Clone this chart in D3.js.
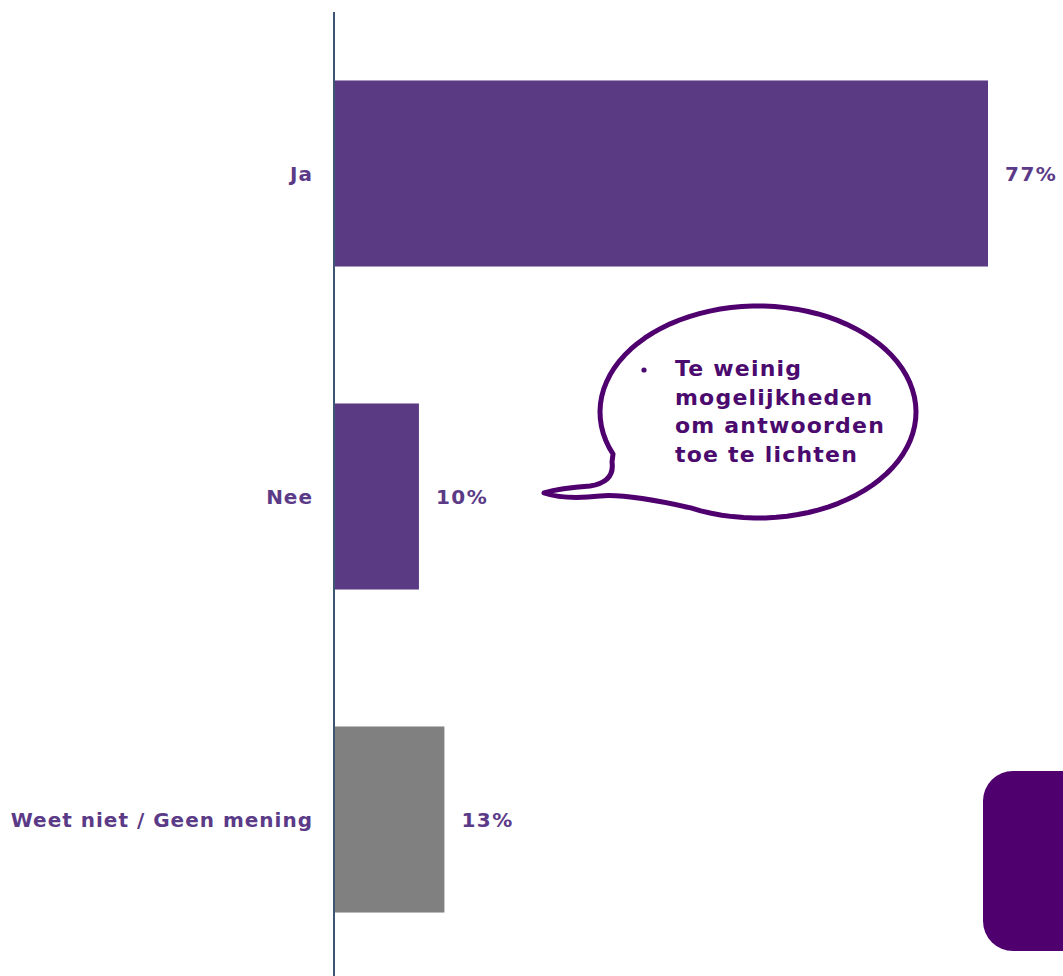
<!DOCTYPE html>
<html>
<head>
<meta charset="utf-8">
<script src="https://cdn.jsdelivr.net/npm/d3@7"></script>
<style>
  body { margin: 0; background: #fff; }
  svg { display: block; }
</style>
</head>
<body>
<div id="chart"></div>
<script>
// answers and shares (%)
const categories = ['Ja', 'Nee', 'Weet niet / Geen mening'];
const values = [77, 10, 13];
const barColors = ['#5b3a84', '#5b3a84', '#808080'];
const valueLabels = ['77%', '10%', '13%'];
const bubbleLines = ['Te weinig', 'mogelijkheden', 'om antwoorden', 'toe te lichten'];

const width = 1063, height = 976;
const font = "'DejaVu Sans', Verdana, sans-serif";

const svg = d3.select('#chart').append('svg')
  .attr('width', width)
  .attr('height', height);

const x = d3.scaleLinear()
  .domain([0, 77])
  .range([334, 988]);

const y = d3.scaleBand()
  .domain(categories)
  .range([12, 981])
  .paddingInner(0.424)
  .paddingOuter(0.212);

// bars
svg.selectAll('rect.bar')
  .data(values)
  .join('rect')
  .attr('class', 'bar')
  .attr('x', x(0))
  .attr('y', (d, i) => y(categories[i]))
  .attr('width', d => x(d) - x(0))
  .attr('height', y.bandwidth())
  .attr('fill', (d, i) => barColors[i]);

// axis line on the left
svg.append('line')
  .attr('x1', x(0)).attr('x2', x(0))
  .attr('y1', 12).attr('y2', height)
  .attr('stroke', '#3d5473')
  .attr('stroke-width', 2);

// category labels
svg.selectAll('text.cat')
  .data(categories)
  .join('text')
  .attr('class', 'cat')
  .attr('x', 313)
  .attr('y', d => y(d) + y.bandwidth() / 2)
  .attr('dy', '0.36em')
  .attr('text-anchor', 'end')
  .attr('font-family', font)
  .attr('font-weight', 'bold')
  .attr('font-size', 20)
  .attr('letter-spacing', 1)
  .attr('fill', '#5b3a87')
  .text(d => d);

// value labels
svg.selectAll('text.val')
  .data(values)
  .join('text')
  .attr('class', 'val')
  .attr('x', d => x(d) + 17)
  .attr('y', (d, i) => y(categories[i]) + y.bandwidth() / 2)
  .attr('dy', '0.36em')
  .attr('font-family', font)
  .attr('font-weight', 'bold')
  .attr('font-size', 20)
  .attr('letter-spacing', 1.5)
  .attr('fill', '#5b3a87')
  .text((d, i) => valueLabels[i]);

// speech bubble
const cx = 758, cy = 412, rx = 158, ry = 106;
const ex = t => [cx + rx * Math.cos(t), cy + ry * Math.sin(t)];
const t0 = Math.PI * 0.87, t1 = Math.PI * 0.64 + Math.PI * 2;
const a = ex(t0);
const bubble = d3.path();
bubble.moveTo(a[0], a[1]);
// long way round, clockwise
const steps = 80;
for (let i = 1; i <= steps; i++) {
  const p = ex(t0 + (t1 - t0) * i / steps);
  bubble.lineTo(p[0], p[1]);
}
bubble.bezierCurveTo(655, 500, 620, 494, 600, 496);
bubble.quadraticCurveTo(565, 500, 544, 493);
bubble.quadraticCurveTo(560, 488, 590, 486);
bubble.quadraticCurveTo(615, 482, 612, 462);
bubble.closePath();

svg.append('path')
  .attr('d', bubble.toString())
  .attr('fill', '#fff')
  .attr('stroke', '#4f006e')
  .attr('stroke-width', 5)
  .attr('stroke-linejoin', 'round');

svg.append('circle')
  .attr('cx', 644).attr('cy', 370).attr('r', 2.6)
  .attr('fill', '#4b0a6e');

svg.append('text')
  .attr('font-family', font)
  .attr('font-weight', 'bold')
  .attr('font-size', 22)
  .attr('letter-spacing', 1.2)
  .attr('fill', '#4b0a6e')
  .selectAll('tspan')
  .data(bubbleLines)
  .join('tspan')
  .attr('x', 675)
  .attr('y', (d, i) => 376 + i * 28.5)
  .text(d => d);

// rounded block bottom right
svg.append('rect')
  .attr('x', 983).attr('y', 771)
  .attr('width', 120).attr('height', 180)
  .attr('rx', 30).attr('ry', 30)
  .attr('fill', '#4f006e');
</script>
</body>
</html>
